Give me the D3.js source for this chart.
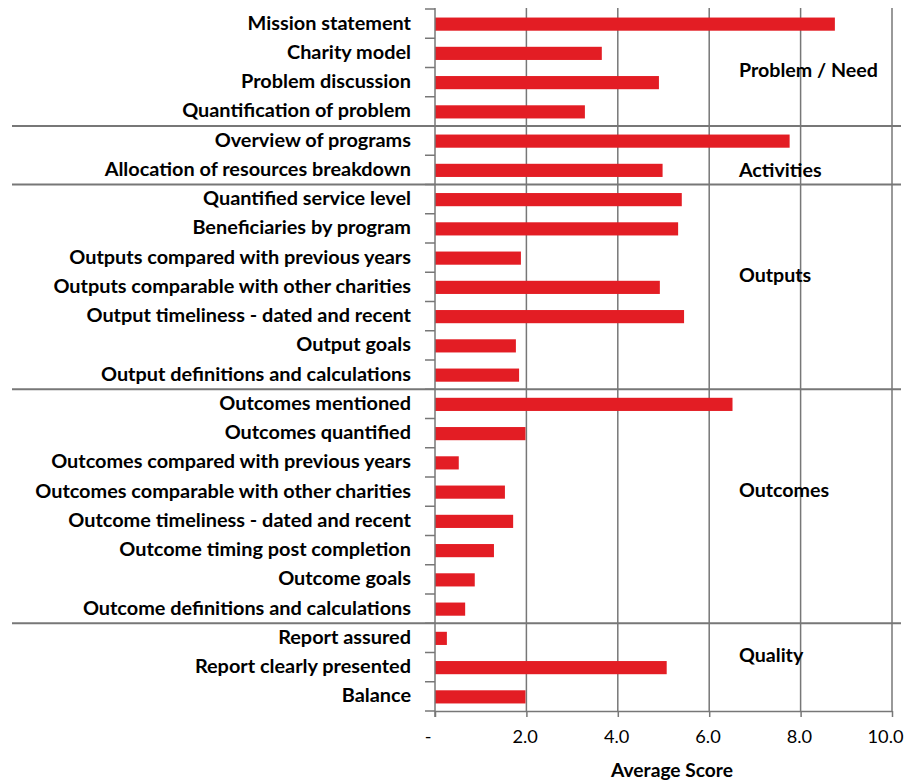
<!DOCTYPE html>
<html>
<head>
<meta charset="utf-8">
<script src="https://cdn.jsdelivr.net/npm/d3@7/dist/d3.min.js"></script>
<style>
  html, body { margin: 0; padding: 0; background: #fff; }
  svg { display: block; }
  text { font-family: Lato, "Open Sans", sans-serif; fill: #000; }
</style>
</head>
<body>
<svg id="chart" width="917" height="780"></svg>
<script>
// ---- data ----
const categories = [
  "Mission statement",
  "Charity model",
  "Problem discussion",
  "Quantification of problem",
  "Overview of programs",
  "Allocation of resources breakdown",
  "Quantified service level",
  "Beneficiaries by program",
  "Outputs compared with previous years",
  "Outputs comparable with other charities",
  "Output timeliness - dated and recent",
  "Output goals",
  "Output definitions and calculations",
  "Outcomes mentioned",
  "Outcomes quantified",
  "Outcomes compared with previous years",
  "Outcomes comparable with other charities",
  "Outcome timeliness - dated and recent",
  "Outcome timing post completion",
  "Outcome goals",
  "Outcome definitions and calculations",
  "Report assured",
  "Report clearly presented",
  "Balance"
];
const scores = [
  8.75, 3.65, 4.90, 3.28,
  7.76, 4.98,
  5.40, 5.32, 1.88, 4.92, 5.45, 1.77, 1.84,
  6.51, 1.98, 0.52, 1.53, 1.71, 1.29, 0.87, 0.66,
  0.26, 5.07, 1.98
];
const groups = ["Problem / Need", "Activities", "Outputs", "Outcomes", "Quality"];
const groupSizes = [4, 2, 7, 8, 3];
const xTicks = [0, 2, 4, 6, 8, 10];
const xTitle = "Average Score";

// ---- layout (not data) ----
const plot = { left: 435, right: 892, top: 9, bottom: 711 };
const groupLabelRow = [2.1, 5.5, 9.1, 16.45, 22.1]; // label centre, in row units
const groupLabelX = 739;
const sepLeft = 12, sepRight = 901;
const labelRight = 411;
const gridColor = "#777";
const barColor = "#e31d24";

const svg = d3.select("#chart");

const x = d3.scaleLinear().domain([0, 10]).range([plot.left, plot.right]);
const y = d3.scaleBand().domain(categories)
  .range([plot.top, plot.bottom])
  .paddingInner(0.55).paddingOuter(0.275);
const rowPos = d3.scaleLinear().domain([0, categories.length]).range([plot.top, plot.bottom]);

// font fitting helper
function fitSize(text, weight, target) {
  const t = svg.append("text").attr("font-size", 100).attr("font-weight", weight).text(text);
  const w = t.node().getComputedTextLength();
  t.remove();
  return 100 * target / w;
}
const catSize = fitSize("Outcomes comparable with other charities", "bold", 376);
const tickSize = fitSize("10.0", "normal", 36);
const titleSize = fitSize(xTitle, "bold", 122);
const groupSize = fitSize("Problem / Need", "bold", 139);

// gridlines
svg.append("g").selectAll("line").data(xTicks.filter(d => d > 0)).join("line")
  .attr("x1", d => x(d)).attr("x2", d => x(d))
  .attr("y1", plot.top - 1).attr("y2", plot.bottom)
  .attr("stroke", gridColor).attr("stroke-width", 1.5);

// bars
svg.append("g").selectAll("rect").data(categories).join("rect")
  .attr("x", x(0))
  .attr("y", d => y(d) + 0.5)
  .attr("width", (d, i) => x(scores[i]) - x(0))
  .attr("height", y.bandwidth())
  .attr("fill", barColor);

// y axis line and boundary ticks
svg.append("line")
  .attr("x1", x(0)).attr("x2", x(0))
  .attr("y1", plot.top - 1).attr("y2", plot.bottom + 6)
  .attr("stroke", gridColor).attr("stroke-width", 1.5);
svg.append("g").selectAll("line").data(d3.range(categories.length + 1)).join("line")
  .attr("x1", x(0) - 10).attr("x2", x(0))
  .attr("y1", d => rowPos(d)).attr("y2", d => rowPos(d))
  .attr("stroke", gridColor).attr("stroke-width", 1.5);

// x axis
const xAxis = svg.append("g").attr("transform", `translate(0,${plot.bottom})`)
  .call(d3.axisBottom(x).tickValues(xTicks).tickSize(6).tickFormat(d => d === 0 ? "-" : d3.format(".1f")(d)));
xAxis.select(".domain").attr("stroke", gridColor).attr("stroke-width", 1.5)
  .attr("d", `M${x(0)},0.5H${x(10)}`);
xAxis.selectAll(".tick line").attr("stroke", gridColor).attr("stroke-width", 1.5);
xAxis.selectAll(".tick text")
  .attr("font-size", tickSize)
  .attr("font-family", "Lato, 'Open Sans', sans-serif")
  .attr("fill", "#000")
  .attr("y", 32).attr("dy", 0)
  .attr("text-anchor", "end")
  .attr("x", d => d === 0 ? -4 : 11);

// x title
svg.append("text")
  .attr("x", 672).attr("y", 777)
  .attr("text-anchor", "middle")
  .attr("font-weight", "bold")
  .attr("font-size", titleSize)
  .text(xTitle);

// category labels
svg.append("g").selectAll("text").data(categories).join("text")
  .attr("x", labelRight)
  .attr("y", d => y(d) + y.bandwidth() / 2 - 1.2)
  .attr("dy", "0.36em")
  .attr("text-anchor", "end")
  .attr("font-weight", "bold")
  .attr("font-size", catSize)
  .text(d => d);

// group separators and labels
const bounds = d3.cumsum(groupSizes);
svg.append("g").selectAll("line").data(bounds.slice(0, -1)).join("line")
  .attr("x1", sepLeft).attr("x2", sepRight)
  .attr("y1", d => rowPos(d)).attr("y2", d => rowPos(d))
  .attr("stroke", gridColor).attr("stroke-width", 2);

svg.append("g").selectAll("text").data(groups).join("text")
  .attr("x", groupLabelX)
  .attr("y", (d, i) => rowPos(groupLabelRow[i]))
  .attr("dy", "0.36em")
  .attr("font-weight", "bold")
  .attr("font-size", groupSize)
  .text(d => d);
</script>
</body>
</html>
